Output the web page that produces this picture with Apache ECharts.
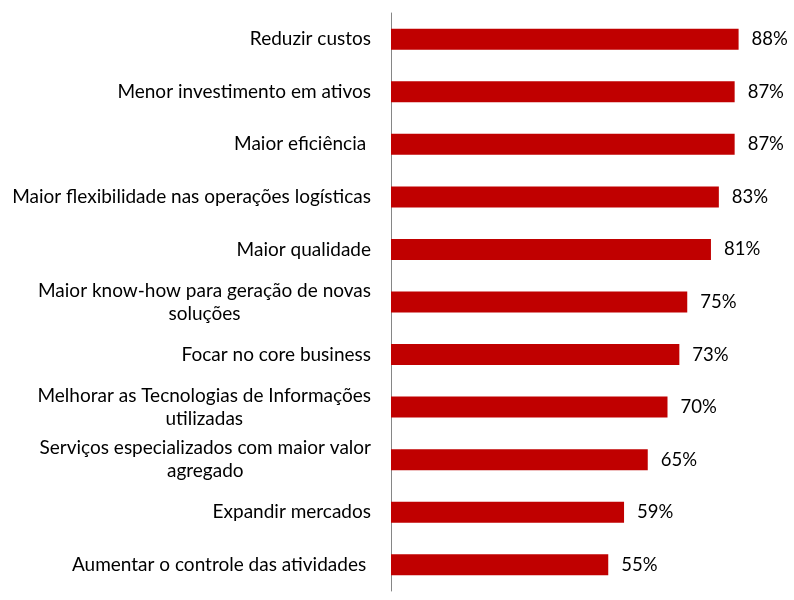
<!DOCTYPE html>
<html>
<head>
<meta charset="utf-8">
<script src="https://cdn.jsdelivr.net/npm/echarts@6/dist/echarts.min.js"></script>
<style>
html,body{margin:0;padding:0;background:#fff;}
#chart{width:794px;height:600px;}
</style>
</head>
<body>
<div id="chart"></div>
<script>
const categories = [
  "Reduzir custos",
  "Menor investimento em ativos",
  "Maior eficiência ",
  "Maior flexibilidade nas operações logísticas",
  "Maior qualidade",
  "Maior know-how para geração de novas\nsoluções",
  "Focar no core business",
  "Melhorar as Tecnologias de Informações\nutilizadas",
  "Serviços especializados com maior valor\nagregado",
  "Expandir mercados",
  "Aumentar o controle das atividades "
];
const values = [88, 87, 87, 83, 81, 75, 73, 70, 65, 59, 55];

const chart = echarts.init(document.getElementById('chart'));
const FONT = 'Lato, "Open Sans", sans-serif';
chart.setOption({
  animation: false,
  grid: {left: 391, right: 8, top: 13, bottom: 9, containLabel: false},
  xAxis: {
    type: 'value', min: 0, max: 100,
    show: false
  },
  yAxis: {
    type: 'category',
    inverse: true,
    data: categories,
    axisLine: {show: true, lineStyle: {color: '#868686', width: 1}},
    axisTick: {show: false},
    splitLine: {show: false},
    axisLabel: {
      margin: 20, color: '#000', fontFamily: FONT, fontSize: 19,
      lineHeight: 23, align: 'right',
      formatter: function (v) {
        return v.split('\n').map(function (s) { return '{c|' + s + '}'; }).join('\n');
      },
      rich: {
        c: {align: 'center', color: '#000', fontFamily: FONT, fontSize: 19, lineHeight: 23}
      }
    }
  },
  series: [{
    type: 'bar',
    data: values,
    barWidth: 21,
    itemStyle: {color: '#C00000'},
    label: {
      show: true, position: 'right', distance: 13,
      formatter: '{c}%', color: '#000', fontFamily: FONT, fontSize: 18.5
    }
  }]
});
</script>
</body>
</html>
